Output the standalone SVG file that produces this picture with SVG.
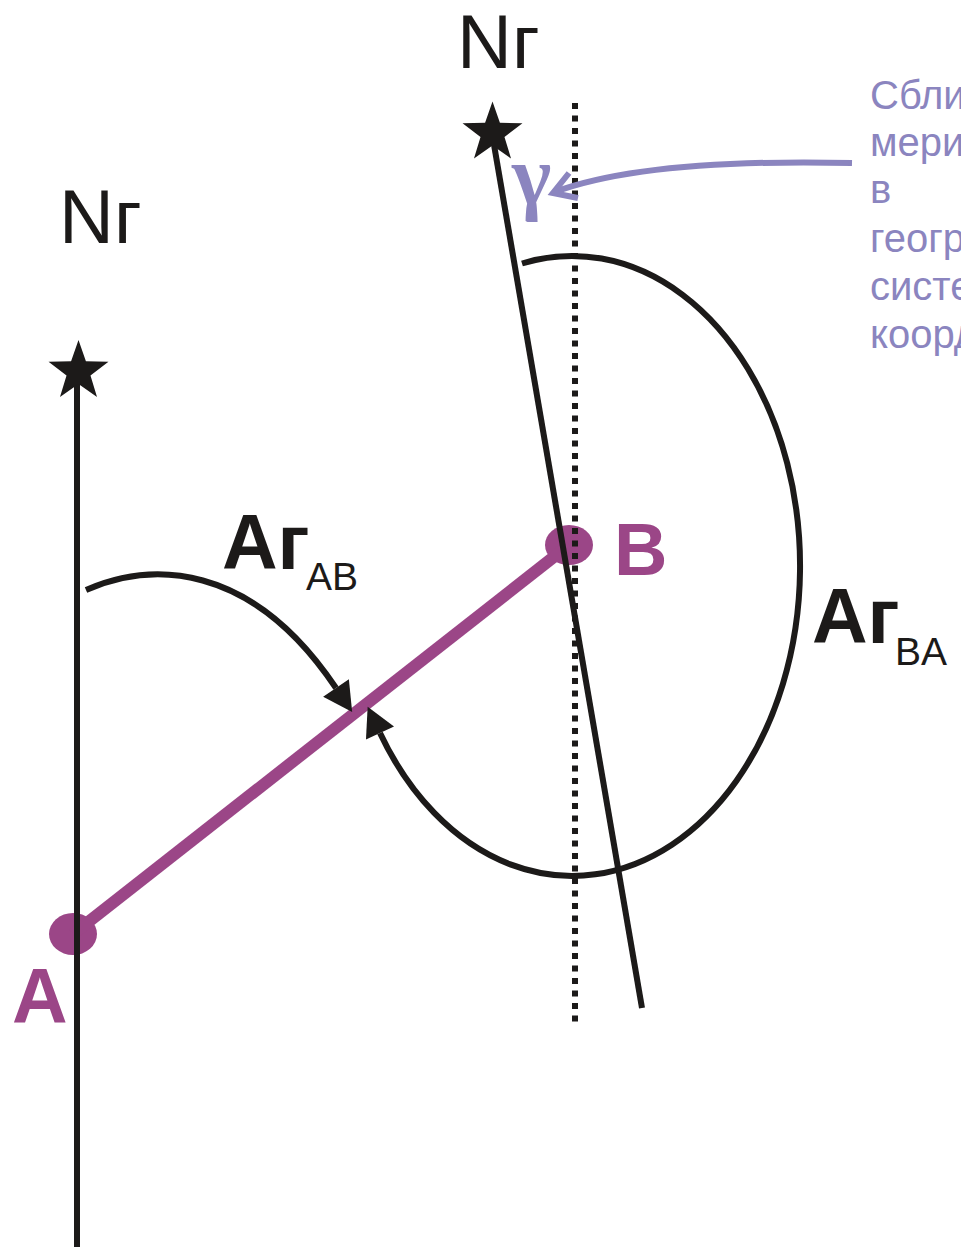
<svg xmlns="http://www.w3.org/2000/svg" width="961" height="1247" viewBox="0 0 961 1247">
<style>
.ln{stroke:#1c1a19;stroke-width:6;fill:none}
.dot{stroke:#1c1a19;stroke-width:6;fill:none;stroke-dasharray:6 6.5}
.mag{fill:#9b4687}
.magl{stroke:#9b4687;stroke-width:12;fill:none}
.lav{fill:#8b85bf;font-family:"Liberation Sans",Arial,sans-serif}
.t{font-family:"Liberation Sans",Arial,sans-serif;fill:#1c1a19}
.b{font-weight:bold}
</style>
<defs>
<path id="star" d="M0,-31.5 L7.41,-10.19 L29.96,-9.73 L11.98,3.89 L18.52,25.48 L0,12.6 L-18.52,25.48 L-11.98,3.89 L-29.96,-9.73 L-7.41,-10.19 Z" fill="#1c1a19"/>
<marker id="ah" markerUnits="userSpaceOnUse" markerWidth="40" markerHeight="40" viewBox="0 -20 40 40" refX="0" refY="0" orient="auto" overflow="visible">
<path d="M0,-15.5 L29,0 L0,15.5 Z" fill="#1c1a19"/>
</marker>
</defs>
<rect width="961" height="1247" fill="#ffffff"/>

<g id="node-A">
<ellipse class="mag" cx="73" cy="934" rx="24" ry="21"/>
<text class="t b" x="12" y="1023" font-size="77" style="fill:#9b4687">A</text>
</g>
<g id="node-B">
<ellipse class="mag" cx="569" cy="545" rx="24" ry="20"/>
<text class="t b" x="614" y="575" font-size="74" style="fill:#9b4687">B</text>
</g>

<g id="connectors">
<line class="magl" x1="73" y1="934" x2="569" y2="545"/>
<line class="ln" x1="77" y1="372" x2="77" y2="1247"/>
<line class="ln" x1="492" y1="133" x2="642" y2="1008"/>
<line class="dot" x1="575" y1="103" x2="575" y2="1022"/>
<path class="ln" d="M86,590 C150,562 250,560 336,688" marker-end="url(#ah)"/>
<path class="ln" d="M522,263.5 A228,310 0 1 1 380,733" marker-end="url(#ah)"/>
<path d="M852,163 C720,160 620,168 555,192" fill="none" stroke="#8b85bf" stroke-width="6"/>
<polyline points="569,173 553,193 578,198" fill="none" stroke="#8b85bf" stroke-width="6" stroke-linejoin="miter"/>
</g>

<g id="star-left"><use href="#star" x="78.5" y="371.5"/></g>
<g id="star-right"><use href="#star" x="492.5" y="133"/></g>

<g id="label-N-left"><text class="t" x="59" y="243" font-size="76">Nг</text></g>
<g id="label-N-top"><text class="t" x="457" y="68" font-size="76">Nг</text></g>
<g id="label-ArAB"><text class="t b" x="222" y="569" font-size="77">Aг</text><text class="t" x="306" y="590" font-size="39">AB</text></g>
<g id="label-ArBA"><text class="t b" x="812" y="643" font-size="77">Aг</text><text class="t" x="895" y="665" font-size="39">BA</text></g>
<g id="label-gamma"><text x="512" y="204" font-size="84" font-weight="bold" font-family="'Liberation Serif','Times New Roman',serif" fill="#8b85bf">γ</text></g>
<g id="label-note">
<text class="lav" font-size="40">
<tspan x="870" y="109">Сближение</tspan>
<tspan x="870" y="156">меридианов</tspan>
<tspan x="870" y="203">в</tspan>
<tspan x="870" y="252">географической</tspan>
<tspan x="870" y="300">системе</tspan>
<tspan x="870" y="348">координат</tspan>
</text>
</g>
</svg>
